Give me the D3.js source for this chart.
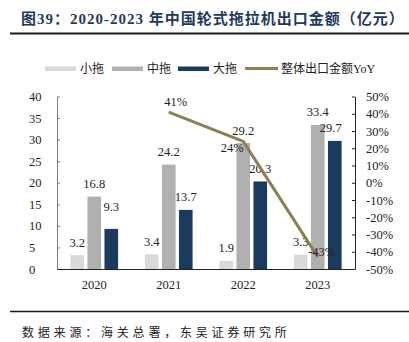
<!DOCTYPE html>
<html>
<head>
<meta charset="utf-8">
<script src="https://cdn.jsdelivr.net/npm/d3@7"></script>
<style>
  body { margin: 0; background: #fff; }
  text { font-family: "Liberation Serif", "Noto Sans CJK SC", serif; }
</style>
</head>
<body>
<svg id="chart" width="409" height="342"></svg>
<script>
// export value by tractor class, 亿元
const years = ['2020', '2021', '2022', '2023'];
const series = ['小拖', '中拖', '大拖'];
const small = [3.2, 3.4, 1.9, 3.3];
const medium = [16.8, 24.2, 29.2, 33.4];
const large = [9.3, 13.7, 20.3, 29.7];
// total export YoY, %
const yoyYears = ['2021', '2022', '2023'];
const yoy = [41, 24, -43];
const leftTicks = [0, 5, 10, 15, 20, 25, 30, 35, 40];
const rightTicks = [-50, -40, -30, -20, -10, 0, 10, 20, 30, 40, 50];

const colors = ['#d9d9d9', '#b0b0b0', '#1b3a5f'];
const lineColor = '#8c7f50';

const svg = d3.select('#chart');
const margin = { left: 57, right: 54, top: 96.5, bottom: 73 };
const W = 409, H = 342;
const x0 = margin.left, x1 = W - margin.right;
const y0 = H - margin.bottom, y1 = margin.top;

const x = d3.scaleBand().domain(years).range([x0, x1]).paddingInner(0.36).paddingOuter(0.18);
const xs = d3.scaleBand().domain(series).range([0, x.bandwidth()]).paddingInner(0.2);
const y = d3.scaleLinear().domain([0, 40]).range([y0, y1]);
const yr = d3.scaleLinear().domain([-50, 50]).range([y0, y1]);

// title + rules
svg.append('text')
  .attr('x', 21).attr('y', 24)
  .attr('font-size', 15).attr('font-weight', 'bold')
  .attr('letter-spacing', 1)
  .attr('fill', '#1f3a60')
  .text('图39：2020-2023 年中国轮式拖拉机出口金额（亿元）');
svg.append('line').attr('x1', 10).attr('x2', W).attr('y1', 33.5).attr('y2', 33.5)
  .attr('stroke', '#1a1a1a').attr('stroke-width', 2);
svg.append('line').attr('x1', 10).attr('x2', W).attr('y1', 311.5).attr('y2', 311.5)
  .attr('stroke', '#1a1a1a').attr('stroke-width', 1.5);
svg.append('text')
  .attr('x', 22).attr('y', 337)
  .attr('font-size', 12).attr('letter-spacing', 3.8)
  .attr('fill', '#222')
  .text('数据来源：海关总署，东吴证券研究所');

// legend
const legend = svg.append('g').attr('font-size', 12).attr('fill', '#222');
const legendItems = [
  { label: '小拖', x: 45, color: colors[0] },
  { label: '中拖', x: 112, color: colors[1] },
  { label: '大拖', x: 178, color: colors[2] }
];
legendItems.forEach(d => {
  legend.append('rect').attr('x', d.x).attr('y', 66.5).attr('width', 31).attr('height', 4.5)
    .attr('fill', d.color);
  legend.append('text').attr('x', d.x + 35).attr('y', 73).text(d.label);
});
legend.append('line').attr('x1', 245).attr('x2', 278).attr('y1', 68.5).attr('y2', 68.5)
  .attr('stroke', lineColor).attr('stroke-width', 3);
legend.append('text').attr('x', 281).attr('y', 73).text('整体出口金额YoY');

// bars
const rows = years.map((yr_, i) => ({ year: yr_, values: [small[i], medium[i], large[i]] }));
const groups = svg.append('g').selectAll('g').data(rows).enter().append('g')
  .attr('transform', d => 'translate(' + x(d.year) + ',0)');

groups.selectAll('rect')
  .data(d => d.values.map((v, k) => ({ key: series[k], v: v, k: k })))
  .enter().append('rect')
  .attr('x', d => xs(d.key))
  .attr('y', d => y(d.v))
  .attr('width', xs.bandwidth())
  .attr('height', d => y0 - y(d.v))
  .attr('fill', d => colors[d.k]);

// value labels; a couple are nudged the way the original layout had them
const nudge = { '2020-2': [0, -9], '2023-2': [-4, 0] };
groups.each(function (row) {
  d3.select(this).selectAll('text.val')
    .data(row.values.map((v, k) => ({ key: series[k], v: v, k: k })))
    .enter().append('text')
    .attr('class', 'val')
    .attr('x', d => xs(d.key) + xs.bandwidth() / 2 + (nudge[row.year + '-' + d.k] || [0, 0])[0])
    .attr('y', d => y(d.v) - 8.5 + (nudge[row.year + '-' + d.k] || [0, 0])[1])
    .attr('text-anchor', 'middle')
    .attr('font-size', 12.5)
    .attr('fill', '#222')
    .text(d => d.v.toFixed(1));
});

// YoY line
const cx = d => x(d) + x.bandwidth() / 2;
const line = d3.line().x((d, i) => cx(yoyYears[i])).y(d => yr(d));
svg.append('path')
  .attr('d', line(yoy))
  .attr('fill', 'none')
  .attr('stroke', lineColor)
  .attr('stroke-width', 3)
  .attr('stroke-linejoin', 'round');

const yoyOffset = [[7, -6], [-11, 11], [4, -1]];
svg.append('g').selectAll('text').data(yoy).enter().append('text')
  .attr('x', (d, i) => cx(yoyYears[i]) + yoyOffset[i][0])
  .attr('y', (d, i) => yr(d) + yoyOffset[i][1])
  .attr('text-anchor', 'middle')
  .attr('font-size', 12.5)
  .attr('fill', '#222')
  .text(d => d + '%');

// axes
const leftAxis = svg.append('g')
  .attr('transform', 'translate(' + x0 + ',0)')
  .call(d3.axisLeft(y).tickValues(leftTicks).tickSizeInner(-3).tickSizeOuter(0).tickPadding(0));
leftAxis.select('.domain').attr('stroke', '#808080');
leftAxis.selectAll('.tick line').attr('stroke', '#808080');
leftAxis.selectAll('.tick text')
  .attr('x', 29 - x0).attr('text-anchor', 'start')
  .attr('font-size', 12.5).attr('fill', '#222')
  .style('font-family', '"Liberation Serif", serif');

const rightAxis = svg.append('g')
  .attr('transform', 'translate(' + x1 + ',0)')
  .call(d3.axisRight(yr).tickValues(rightTicks).tickSizeInner(-3).tickSizeOuter(0)
    .tickFormat(d => d + '%'));
rightAxis.select('.domain').attr('stroke', '#222');
rightAxis.selectAll('.tick line').attr('stroke', '#222');
rightAxis.selectAll('.tick text')
  .attr('x', 11)
  .attr('font-size', 12.5).attr('fill', '#222')
  .style('font-family', '"Liberation Serif", serif');

const bottomAxis = svg.append('g')
  .attr('transform', 'translate(0,' + y0 + ')')
  .call(d3.axisBottom(x).tickSize(0).tickPadding(11));
bottomAxis.select('.domain').attr('stroke', '#222');
bottomAxis.selectAll('.tick text')
  .attr('font-size', 12.5).attr('fill', '#222')
  .style('font-family', '"Liberation Serif", serif');
</script>
</body>
</html>
